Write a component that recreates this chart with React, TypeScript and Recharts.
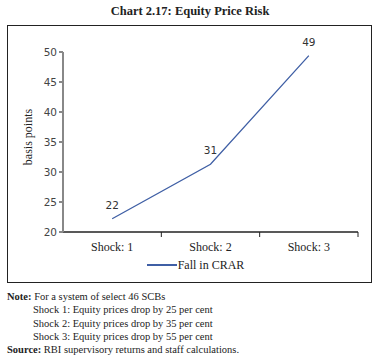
import { LineChart, Line, XAxis, YAxis, Legend, LabelList } from 'recharts'

const shocks = ['Shock: 1', 'Shock: 2', 'Shock: 3']
const fallInCrar = [22.2, 31.3, 49.4]
const yTicks = [20, 25, 30, 35, 40, 45, 50]
const notes = [
  'Shock 1: Equity prices drop by 25 per cent',
  'Shock 2: Equity prices drop by 35 per cent',
  'Shock 3: Equity prices drop by 55 per cent',
]

const data = shocks.map((shock, i) => ({ shock, value: fallInCrar[i] }))

const SERIF = '"Liberation Serif", "Times New Roman", serif'
const SANS = '"DejaVu Sans", Verdana, sans-serif'
const BLUE = '#3f5fa5'

function ShockTick(props: any) {
  const { x, y, payload, width, visibleTicksCount } = props
  const half = width / visibleTicksCount / 2
  return (
    <g>
      <line x1={x + half} y1={y} x2={x + half} y2={y + 5} stroke="#222" />
      <text x={x} y={y + 19} textAnchor="middle" fontFamily={SERIF} fontSize={12} fill="#222">
        {payload.value}
      </text>
    </g>
  )
}

function AxisTitle() {
  return (
    <text
      x={21}
      y={111}
      transform="rotate(-90 21 111)"
      textAnchor="middle"
      dominantBaseline="middle"
      fontFamily={SERIF}
      fontSize={12}
      fill="#222"
    >
      basis points
    </text>
  )
}

function LegendBox() {
  return (
    <div style={{ display: 'flex', alignItems: 'center', justifyContent: 'center', height: 18, paddingLeft: 10 }}>
      <svg width={30} height={4}>
        <line x1={0} y1={2} x2={30} y2={2} stroke={BLUE} strokeWidth={2} />
      </svg>
      <span style={{ fontFamily: SERIF, fontSize: 12, color: '#222', marginLeft: 1 }}>Fall in CRAR</span>
    </div>
  )
}

export default function App() {
  return (
    <div style={{ position: 'absolute', left: 0, top: 0, width: 380, height: 359, background: '#fff' }}>
      <div
        style={{
          position: 'absolute',
          top: 4,
          left: 0,
          width: 380,
          textAlign: 'center',
          fontFamily: SERIF,
          fontWeight: 'bold',
          fontSize: 12.5,
          color: '#222',
        }}
      >
        Chart 2.17: Equity Price Risk
      </div>
      <div
        style={{
          position: 'absolute',
          left: 7,
          top: 25,
          width: 365,
          height: 258,
          border: '1px solid #222',
          boxSizing: 'border-box',
        }}
      >
        <LineChart width={363} height={256} data={data} margin={{ top: 26, right: 13, left: 15, bottom: 8 }}>
          <XAxis
            dataKey="shock"
            scale="band"
            tick={<ShockTick />}
            tickLine={false}
            tickSize={0}
            tickMargin={0}
            height={24}
            stroke="#222"
            strokeWidth={1.3}
          />
          <YAxis
            domain={[20, 50]}
            ticks={yTicks}
            width={40}
            tickSize={4}
            tickMargin={2}
            stroke="#888"
            strokeWidth={2}
            tick={{ fontFamily: SANS, fontSize: 10.5, fill: '#444' }}
            label={<AxisTitle />}
          />
          <Legend verticalAlign="bottom" content={<LegendBox />} />
          <Line
            type="linear"
            dataKey="value"
            stroke={BLUE}
            strokeWidth={1.3}
            dot={false}
            isAnimationActive={false}
          >
            <LabelList
              dataKey="value"
              position="top"
              offset={10}
              formatter={(v: any) => Math.round(Number(v))}
              style={{ fontFamily: SANS, fontSize: 10.5, fill: '#333' }}
            />
          </Line>
        </LineChart>
      </div>
      <div
        style={{
          position: 'absolute',
          left: 7,
          top: 290,
          fontFamily: SERIF,
          fontSize: 10.5,
          lineHeight: '13.3px',
          color: '#222',
        }}
      >
        <div>
          <b>Note:</b> For a system of select 46 SCBs
        </div>
        {notes.map((n) => (
          <div key={n} style={{ paddingLeft: 26 }}>
            {n}
          </div>
        ))}
        <div>
          <b>Source:</b> RBI supervisory returns and staff calculations.
        </div>
      </div>
    </div>
  )
}
